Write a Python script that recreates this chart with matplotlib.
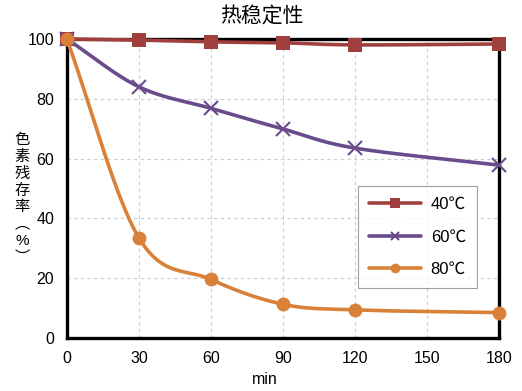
import matplotlib
matplotlib.use("Agg")
import matplotlib.pyplot as plt
import numpy as np
from matplotlib.lines import Line2D

plt.rcParams['font.family'] = ['Liberation Sans', 'Noto Sans CJK SC']

x_ticks = [0, 30, 60, 90, 120, 150, 180]
y_ticks = [0, 20, 40, 60, 80, 100]

minutes = [0, 30, 60, 90, 120, 180]
t40 = [100, 99.6, 99.0, 98.7, 98.0, 98.3]
t60 = [100, 84.0, 76.8, 69.9, 63.5, 57.8]
t80 = [100, 33.5, 19.6, 11.3, 9.4, 8.5]

labels = ["40℃", "60℃", "80℃"]
colors = ["#A0403E", "#6A4C8C", "#D98139"]
markers = ["s", "x", "o"]
msizes = [10, 10, 10]


def smooth(xs, ys, n=30):
    # catmull-rom style smoothing, like Excel's smoothed line
    xs = np.asarray(xs, float)
    ys = np.asarray(ys, float)
    px = np.concatenate([[2 * xs[0] - xs[1]], xs, [2 * xs[-1] - xs[-2]]])
    py = np.concatenate([[2 * ys[0] - ys[1]], ys, [2 * ys[-1] - ys[-2]]])
    ox, oy = [], []
    t = np.linspace(0, 1, n)
    for i in range(1, len(px) - 2):
        p0, p1, p2, p3 = [np.array([px[j], py[j]]) for j in (i - 1, i, i + 1, i + 2)]
        c1 = p1 + (p2 - p0) / 6
        c2 = p2 - (p3 - p1) / 6
        b = ((1 - t) ** 3)[:, None] * p1 + (3 * (1 - t) ** 2 * t)[:, None] * c1 \
            + (3 * (1 - t) * t ** 2)[:, None] * c2 + (t ** 3)[:, None] * p2
        ox.extend(b[:, 0])
        oy.extend(b[:, 1])
    return ox, oy


fig = plt.figure(figsize=(5.22, 3.91), dpi=100)
ax = fig.add_axes([0.128, 0.1355, 0.828, 0.765])

series = [t40, t60, t80]
handles = []
for ys, lab, c, m, ms in zip(series, labels, colors, markers, msizes):
    sx, sy = smooth(minutes, ys)
    ax.plot(sx, sy, color=c, lw=2.6, solid_capstyle="round", zorder=3, clip_on=False)
    mew = 1.5 if m == "x" else 0
    ax.plot(minutes, ys, ls="none", marker=m, ms=ms, color=c, mew=mew, zorder=4,
            clip_on=False)
    handles.append(Line2D([], [], color=c, lw=2.6, marker=m, ms=7 if m != "x" else 6,
                          mew=mew, solid_capstyle="round"))

ax.set_xlim(0, 180)
ax.set_ylim(0, 100)
ax.set_xticks(x_ticks)
ax.set_yticks(y_ticks)
ax.tick_params(length=0, labelsize=11.5, pad=9)
ax.grid(True, ls=(0, (3, 3)), color="#cccccc", lw=0.8)
for s in ax.spines.values():
    s.set_linewidth(2.4)
    s.set_color("black")

fig.text(262 / 522, 1 - 17 / 391, "热稳定性", ha="center", va="center", fontsize=15)
fig.text(265 / 522, 1 - 380 / 391, "min", ha="center", va="center", fontsize=11.5)
fig.text(22 / 522, 1 - 199 / 391, "\n".join("色素残存率︵%︶"),
         ha="center", va="center", fontsize=11, linespacing=1.25)

leg = ax.legend(handles, labels, loc="upper left", bbox_to_anchor=(0.674, 0.508),
                fontsize=12, frameon=True, fancybox=False, edgecolor="#888888",
                handlelength=3.1, labelspacing=1.05, borderpad=0.65, handletextpad=0.6,
                borderaxespad=0)
leg.get_frame().set_linewidth(0.8)

fig.savefig("out.png", dpi=100)
